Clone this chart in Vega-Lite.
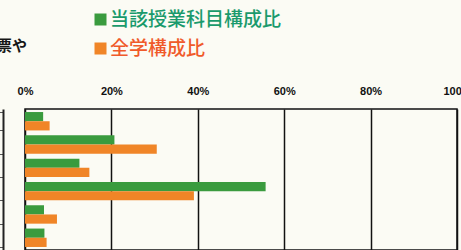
{
  "$schema": "https://vega.github.io/schema/vega-lite/v6.json",
  "autosize": "none",
  "width": 432,
  "height": 141,
  "padding": {"left": 25, "top": 109, "right": 4, "bottom": 0},
  "background": "#fbfbf4",
  "title": {"text": "票や", "anchor": "start", "frame": "group", "offset": 32, "dx": -28, "dy": 76, "fontSize": 15, "fontWeight": "bold", "font": "Noto Sans CJK JP", "color": "#161616"},
  "config": {"view": {"stroke": "#111111", "strokeWidth": 1.5}},
  "data": {"values": [
    {"cat": "1", "series": "当該授業科目構成比", "value": 4.2},
    {"cat": "1", "series": "全学構成比", "value": 5.7},
    {"cat": "2", "series": "当該授業科目構成比", "value": 20.7},
    {"cat": "2", "series": "全学構成比", "value": 30.5},
    {"cat": "3", "series": "当該授業科目構成比", "value": 12.6},
    {"cat": "3", "series": "全学構成比", "value": 14.9},
    {"cat": "4", "series": "当該授業科目構成比", "value": 55.7},
    {"cat": "4", "series": "全学構成比", "value": 39.1},
    {"cat": "5", "series": "当該授業科目構成比", "value": 4.4},
    {"cat": "5", "series": "全学構成比", "value": 7.4},
    {"cat": "6", "series": "当該授業科目構成比", "value": 4.5},
    {"cat": "6", "series": "全学構成比", "value": 5.0}
  ]},
  "mark": {"type": "bar"},
  "encoding": {
    "y": {
      "field": "cat", "type": "nominal", "sort": ["1","2","3","4","5","6"],
      "scale": {"paddingInner": 0.21, "paddingOuter": 0.13},
      "axis": {"orient": "left", "offset": 22, "title": null, "labels": false, "domainColor": "#222", "domainWidth": 2, "tickBand": "extent", "tickSize": 4, "tickColor": "#555", "tickWidth": 1, "grid": false}
    },
    "yOffset": {"field": "series", "type": "nominal", "sort": ["当該授業科目構成比", "全学構成比"], "scale": {"paddingInner": 0, "paddingOuter": 0}},
    "x": {
      "field": "value", "type": "quantitative",
      "scale": {"domain": [0, 100], "nice": false},
      "axis": {"orient": "top", "values": [0, 20, 40, 60, 80, 100], "title": null, "domain": false, "ticks": false, "tickSize": 0, "labelPadding": 13, "labelExpr": "datum.value + '%'", "labelFont": "Liberation Sans", "labelFontWeight": "bold", "labelFontSize": 11, "labelColor": "#111111", "labelFlush": false, "labelOverlap": false, "grid": true, "gridColor": "#111111", "gridWidth": 1.5, "gridOpacity": 1}
    },
    "color": {
      "field": "series", "type": "nominal",
      "scale": {"domain": ["当該授業科目構成比", "全学構成比"], "range": ["#3a9b3e", "#f08527"]},
      "legend": {"orient": "none", "legendX": 66, "legendY": -99, "title": null, "symbolType": "square", "symbolSize": 144, "symbolStrokeWidth": 0, "labelFont": "Noto Sans CJK JP", "labelFontSize": 19, "labelFontWeight": 500, "labelOffset": 0, "labelLimit": 400, "rowPadding": 9, "labelColor": {"expr": "datum.label === '全学構成比' ? '#f05a2a' : '#1a9a6c'"}}
    }
  }
}
